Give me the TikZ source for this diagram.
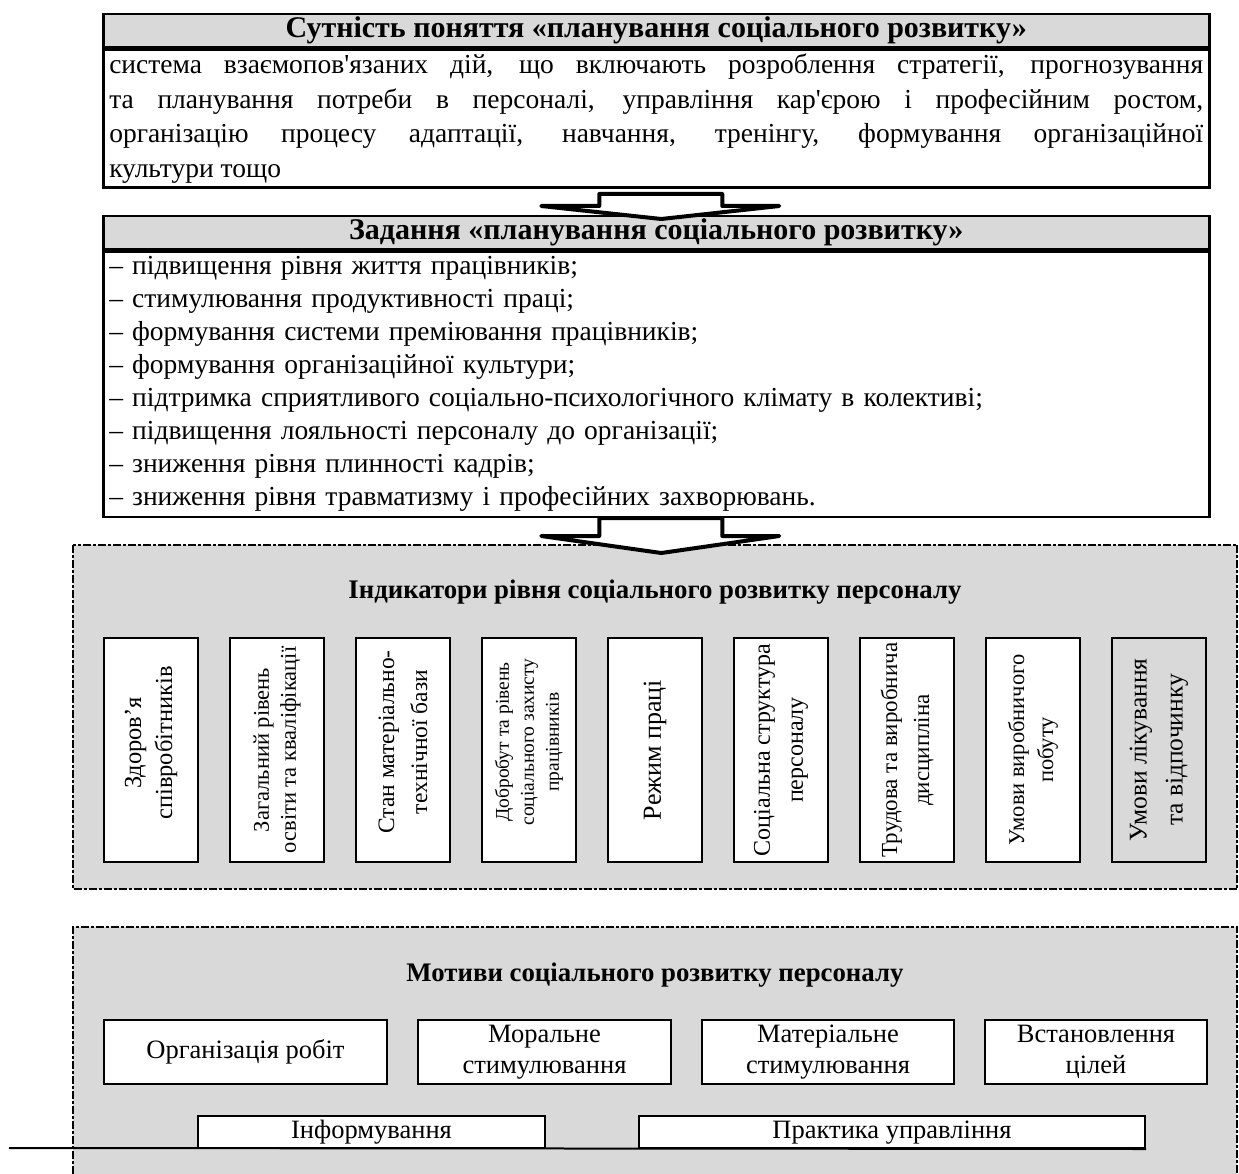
\documentclass[tikz,border=0pt]{standalone}
\usepackage{fontspec}
\setmainfont{Liberation Serif}[Ligatures=TeXOff]
\usetikzlibrary{calc}
\definecolor{lgray}{RGB}{217,217,217}
\tikzset{
  frame/.style={draw=black, line width=2.5pt},
  hdr/.style={frame, fill=lgray, anchor=north west, minimum width=1106pt, minimum height=33pt, inner sep=0pt, font=\bfseries\fontsize{30}{32}\selectfont},
  bodybox/.style={frame, fill=white, anchor=north west, text width=1094pt, inner xsep=6pt, inner ysep=0pt},
  dbox/.style={fill=lgray, anchor=north west, inner sep=0pt, minimum width=1164pt},
  dline/.style={draw=black, line width=2pt, dash pattern=on 8pt off 2pt on 3pt off 2pt},
  vbox/.style={draw=black, line width=2pt, fill=white, minimum width=94pt, minimum height=224pt, inner sep=0pt},
  vtxt/.style={rotate=90, align=center, inner sep=0pt},
  mbox/.style={draw=black, line width=2pt, fill=white, minimum height=64pt, inner sep=2pt, align=center, font=\fontsize{26.5}{31}\selectfont},
  lbox/.style={draw=black, line width=2pt, fill=white, minimum height=32pt, inner sep=0pt, text height=18pt, text depth=6pt, font=\fontsize{26.5}{31}\selectfont},
  ttl/.style={font=\bfseries\fontsize{26.8}{32}\selectfont, inner sep=0pt},
  barrow/.style={draw=black, fill=white, line width=4pt, line join=round},
}
\begin{document}
\begin{tikzpicture}[x=1pt,y=-1pt]
\useasboundingbox[fill=white] (0,0) rectangle (1239,1174);

% ---- top box
\node[hdr] (h1) at (102,13) {Сутність поняття «планування соціального розвитку»};
\node[bodybox, minimum height=138pt, align=justify, font=\fontsize{27.5}{34.5}\selectfont] (b1) at (h1.south west)
 {\tolerance=10000\hbadness=10000\hyphenpenalty=10000
 система взаємопов'язаних дій, що включають розроблення стратегії, прогнозування\linebreak
 та планування потреби в персоналі, управління кар'єрою і професійним ростом,\linebreak
 організацію процесу адаптації, навчання, тренінгу, формування організаційної\linebreak
 культури тощо};

% ---- second box
\node[hdr] (h2) at (102,215) {Задання «планування соціального розвитку»};
\node[bodybox, minimum height=265pt, align=left, font=\fontsize{27.5}{33}\selectfont] (b2) at (h2.south west)
 {– підвищення рівня життя працівників;\\
  – стимулювання продуктивності праці;\\
  – формування системи преміювання працівників;\\
  – формування організаційної культури;\\
  – підтримка сприятливого соціально-психологічного клімату в колективі;\\
  – підвищення лояльності персоналу до організації;\\
  – зниження рівня плинності кадрів;\\
  – зниження рівня травматизму і професійних захворювань.};

% ---- arrow 1
\coordinate (a1) at ($(b1.south)+(5,5)$);
\draw[barrow] ($(a1)+(-62,0)$) -- ++(123,0) -- ++(0,12) -- ++(57,0) -- ($(a1)+(0,25)$)
  -- ($(a1)+(-120,12)$) -- ++(58,0) -- cycle;

% ---- indicators panel
\node[dbox, minimum height=344pt] (ind) at (73,545) {};
\draw[dline] (ind.north west) rectangle (ind.south east);
\node[ttl] (t1) at (655,592) {Індикатори рівня соціального розвитку персоналу};

\node[vbox] (i1) at (151,750) {};
\node[vbox] (i2) at (277,750) {};
\node[vbox] (i3) at (403,750) {};
\node[vbox] (i4) at (529,750) {};
\node[vbox] (i5) at (655,750) {};
\node[vbox] (i6) at (781,750) {};
\node[vbox] (i7) at (907,750) {};
\node[vbox] (i8) at (1033,750) {};
\node[vbox, fill=lgray] (i9) at (1159,750) {};

\node[vtxt, font=\fontsize{24.5}{31}\selectfont] (x1) at ($(i1.center)+(0,-7)$) {Здоров’я\\співробітників};
\node[vtxt, font=\fontsize{22.5}{27}\selectfont] (x2) at (i2.center) {Загальний рівень\\освіти та кваліфікації};
\node[vtxt, font=\fontsize{23.5}{33}\selectfont] (x3) at ($(i3.center)+(0,-8)$) {Стан матеріально-\\технічної бази};
\node[vtxt, font=\fontsize{19.5}{25}\selectfont] (x4) at ($(i4.center)+(0,-8)$) {Добробут та рівень\\соціального захисту\\працівників};
\node[vtxt, font=\fontsize{26}{34}\selectfont] (x5) at (i5.center) {Режим праці};
\node[vtxt, font=\fontsize{24}{33}\selectfont] (x6) at (i6.center) {Соціальна структура\\персоналу};
\node[vtxt, font=\fontsize{23}{32}\selectfont] (x7) at (i7.center) {Трудова та виробнича\\дисципліна};
\node[vtxt, font=\fontsize{22.5}{29}\selectfont] (x8) at (i8.center) {Умови виробничого\\побуту};
\node[vtxt, font=\fontsize{25.5}{36}\selectfont] (x9) at (i9.center) {Умови лікування\\та відпочинку};

% ---- arrow 2
\coordinate (a2) at ($(b2.south)+(5,0)$);
\draw[barrow] ($(a2)+(-62,0)$) -- ++(123,0) -- ++(0,18) -- ++(57,0) -- ($(a2)+(0,35)$)
  -- ($(a2)+(-120,18)$) -- ++(58,0) -- cycle;

% ---- motives panel
\node[dbox, minimum height=247pt] (mot) at (73,927) {};
\draw[dline] (mot.south west) -- (mot.north west) -- (mot.north east) -- (mot.south east);
\node[ttl] (t2) at (655,975) {Мотиви соціального розвитку персоналу};

\node[mbox, minimum width=283pt] (m1) at (245.5,1052) {Організація робіт};
\node[mbox, minimum width=253pt] (m2) at (544.5,1052) {Моральне\\стимулювання};
\node[mbox, minimum width=252pt] (m3) at (828,1052) {Матеріальне\\стимулювання};
\node[mbox, minimum width=222pt] (m4) at (1096,1052) {Встановлення\\цілей};

\node[lbox, minimum width=347pt] (m5) at (371.5,1132) {Інформування};
\node[lbox, minimum width=506pt] (m6) at (892,1132) {Практика управління};

\coordinate (lstart) at (9,1148);
\draw[line width=2pt] (lstart) -- (m6.south east);
\end{tikzpicture}
\end{document}
